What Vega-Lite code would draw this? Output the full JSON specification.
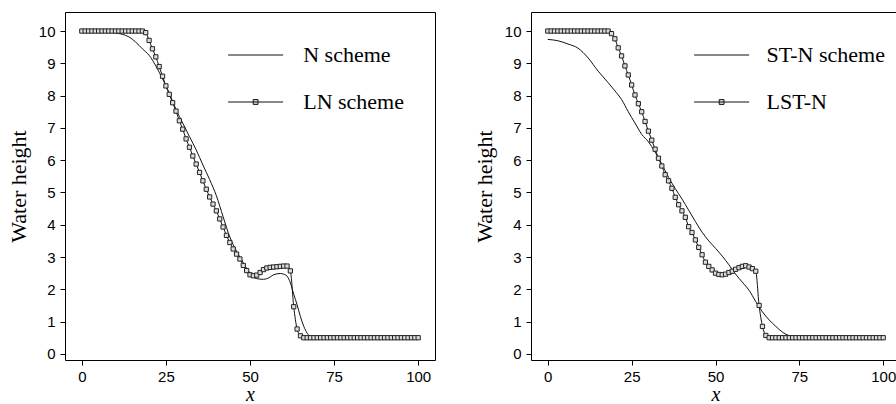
{
  "$schema": "https://vega.github.io/schema/vega-lite/v6.json",
  "background": "white",
  "padding": {"left": 6, "top": 11, "right": 0, "bottom": 0},
  "spacing": 36,
  "config": {
    "view": {"stroke": "black", "strokeWidth": 1},
    "axis": {"grid": false, "domain": false, "tickColor": "black", "tickSize": 5, "labelFont": "Liberation Sans", "labelFontSize": 15, "labelColor": "black", "titleFont": "Liberation Serif", "titleFontSize": 22, "titleFontWeight": "normal", "titleColor": "black"},
    "axisY": {"labelPadding": 5, "titlePadding": 8},
    "axisX": {"labelPadding": 4, "titlePadding": 0, "titleFontSize": 20}
  },
  "datasets": {
    "left": [
      {"x":0,"h":10,"s":"N scheme"},{"x":4,"h":10,"s":"N scheme"},{"x":8,"h":9.97,"s":"N scheme"},{"x":10,"h":9.94,"s":"N scheme"},{"x":12,"h":9.9,"s":"N scheme"},{"x":14,"h":9.82,"s":"N scheme"},{"x":16,"h":9.66,"s":"N scheme"},{"x":18,"h":9.45,"s":"N scheme"},{"x":20,"h":9.25,"s":"N scheme"},{"x":22,"h":8.92,"s":"N scheme"},{"x":24,"h":8.52,"s":"N scheme"},{"x":26,"h":8.08,"s":"N scheme"},{"x":28,"h":7.57,"s":"N scheme"},{"x":30,"h":7.15,"s":"N scheme"},{"x":32,"h":6.73,"s":"N scheme"},{"x":34,"h":6.32,"s":"N scheme"},{"x":36,"h":5.85,"s":"N scheme"},{"x":38,"h":5.4,"s":"N scheme"},{"x":40,"h":4.9,"s":"N scheme"},{"x":42,"h":4.25,"s":"N scheme"},{"x":44,"h":3.62,"s":"N scheme"},{"x":46,"h":3.18,"s":"N scheme"},{"x":48,"h":2.82,"s":"N scheme"},{"x":50,"h":2.5,"s":"N scheme"},{"x":51,"h":2.38,"s":"N scheme"},{"x":52,"h":2.33,"s":"N scheme"},{"x":54,"h":2.31,"s":"N scheme"},{"x":56,"h":2.38,"s":"N scheme"},{"x":57,"h":2.45,"s":"N scheme"},{"x":59,"h":2.49,"s":"N scheme"},{"x":60,"h":2.47,"s":"N scheme"},{"x":61,"h":2.41,"s":"N scheme"},{"x":62,"h":2.2,"s":"N scheme"},{"x":63,"h":1.85,"s":"N scheme"},{"x":64,"h":1.52,"s":"N scheme"},{"x":65,"h":1.15,"s":"N scheme"},{"x":66,"h":0.85,"s":"N scheme"},{"x":67,"h":0.64,"s":"N scheme"},{"x":68,"h":0.53,"s":"N scheme"},{"x":69,"h":0.5,"s":"N scheme"},{"x":100,"h":0.5,"s":"N scheme"},
      {"x":0,"h":10,"s":"LN scheme"},{"x":1,"h":10,"s":"LN scheme"},{"x":2,"h":10,"s":"LN scheme"},{"x":3,"h":10,"s":"LN scheme"},{"x":4,"h":10,"s":"LN scheme"},{"x":5,"h":10,"s":"LN scheme"},{"x":6,"h":10,"s":"LN scheme"},{"x":7,"h":10,"s":"LN scheme"},{"x":8,"h":10,"s":"LN scheme"},{"x":9,"h":10,"s":"LN scheme"},{"x":10,"h":10,"s":"LN scheme"},{"x":11,"h":10,"s":"LN scheme"},{"x":12,"h":10,"s":"LN scheme"},{"x":13,"h":10,"s":"LN scheme"},{"x":14,"h":10,"s":"LN scheme"},{"x":15,"h":10,"s":"LN scheme"},{"x":16,"h":10,"s":"LN scheme"},{"x":17,"h":10,"s":"LN scheme"},{"x":18,"h":10,"s":"LN scheme"},{"x":19,"h":9.95,"s":"LN scheme"},{"x":20,"h":9.71,"s":"LN scheme"},{"x":21,"h":9.45,"s":"LN scheme"},{"x":22,"h":9.2,"s":"LN scheme"},{"x":23,"h":8.9,"s":"LN scheme"},{"x":24,"h":8.6,"s":"LN scheme"},{"x":25,"h":8.3,"s":"LN scheme"},{"x":26,"h":8.04,"s":"LN scheme"},{"x":27,"h":7.78,"s":"LN scheme"},{"x":28,"h":7.52,"s":"LN scheme"},{"x":29,"h":7.22,"s":"LN scheme"},{"x":30,"h":6.96,"s":"LN scheme"},{"x":31,"h":6.66,"s":"LN scheme"},{"x":32,"h":6.4,"s":"LN scheme"},{"x":33,"h":6.13,"s":"LN scheme"},{"x":34,"h":5.88,"s":"LN scheme"},{"x":35,"h":5.62,"s":"LN scheme"},{"x":36,"h":5.36,"s":"LN scheme"},{"x":37,"h":5.1,"s":"LN scheme"},{"x":38,"h":4.86,"s":"LN scheme"},{"x":39,"h":4.64,"s":"LN scheme"},{"x":40,"h":4.43,"s":"LN scheme"},{"x":41,"h":4.18,"s":"LN scheme"},{"x":42,"h":3.93,"s":"LN scheme"},{"x":43,"h":3.67,"s":"LN scheme"},{"x":44,"h":3.45,"s":"LN scheme"},{"x":45,"h":3.25,"s":"LN scheme"},{"x":46,"h":3.09,"s":"LN scheme"},{"x":47,"h":2.94,"s":"LN scheme"},{"x":48,"h":2.74,"s":"LN scheme"},{"x":49,"h":2.58,"s":"LN scheme"},{"x":50,"h":2.45,"s":"LN scheme"},{"x":51,"h":2.42,"s":"LN scheme"},{"x":52,"h":2.44,"s":"LN scheme"},{"x":53,"h":2.52,"s":"LN scheme"},{"x":54,"h":2.61,"s":"LN scheme"},{"x":55,"h":2.66,"s":"LN scheme"},{"x":56,"h":2.68,"s":"LN scheme"},{"x":57,"h":2.69,"s":"LN scheme"},{"x":58,"h":2.7,"s":"LN scheme"},{"x":59,"h":2.71,"s":"LN scheme"},{"x":60,"h":2.72,"s":"LN scheme"},{"x":61,"h":2.72,"s":"LN scheme"},{"x":62,"h":2.57,"s":"LN scheme"},{"x":63,"h":1.46,"s":"LN scheme"},{"x":64,"h":0.77,"s":"LN scheme"},{"x":65,"h":0.56,"s":"LN scheme"},{"x":66,"h":0.5,"s":"LN scheme"},{"x":67,"h":0.5,"s":"LN scheme"},{"x":68,"h":0.5,"s":"LN scheme"},{"x":69,"h":0.5,"s":"LN scheme"},{"x":70,"h":0.5,"s":"LN scheme"},{"x":71,"h":0.5,"s":"LN scheme"},{"x":72,"h":0.5,"s":"LN scheme"},{"x":73,"h":0.5,"s":"LN scheme"},{"x":74,"h":0.5,"s":"LN scheme"},{"x":75,"h":0.5,"s":"LN scheme"},{"x":76,"h":0.5,"s":"LN scheme"},{"x":77,"h":0.5,"s":"LN scheme"},{"x":78,"h":0.5,"s":"LN scheme"},{"x":79,"h":0.5,"s":"LN scheme"},{"x":80,"h":0.5,"s":"LN scheme"},{"x":81,"h":0.5,"s":"LN scheme"},{"x":82,"h":0.5,"s":"LN scheme"},{"x":83,"h":0.5,"s":"LN scheme"},{"x":84,"h":0.5,"s":"LN scheme"},{"x":85,"h":0.5,"s":"LN scheme"},{"x":86,"h":0.5,"s":"LN scheme"},{"x":87,"h":0.5,"s":"LN scheme"},{"x":88,"h":0.5,"s":"LN scheme"},{"x":89,"h":0.5,"s":"LN scheme"},{"x":90,"h":0.5,"s":"LN scheme"},{"x":91,"h":0.5,"s":"LN scheme"},{"x":92,"h":0.5,"s":"LN scheme"},{"x":93,"h":0.5,"s":"LN scheme"},{"x":94,"h":0.5,"s":"LN scheme"},{"x":95,"h":0.5,"s":"LN scheme"},{"x":96,"h":0.5,"s":"LN scheme"},{"x":97,"h":0.5,"s":"LN scheme"},{"x":98,"h":0.5,"s":"LN scheme"},{"x":99,"h":0.5,"s":"LN scheme"},{"x":100,"h":0.5,"s":"LN scheme"}
    ],
    "right": [
      {"x":0,"h":9.74,"s":"ST-N scheme"},{"x":3,"h":9.7,"s":"ST-N scheme"},{"x":6,"h":9.6,"s":"ST-N scheme"},{"x":9,"h":9.47,"s":"ST-N scheme"},{"x":12,"h":9.17,"s":"ST-N scheme"},{"x":15,"h":8.76,"s":"ST-N scheme"},{"x":18,"h":8.4,"s":"ST-N scheme"},{"x":20,"h":8.15,"s":"ST-N scheme"},{"x":22,"h":7.88,"s":"ST-N scheme"},{"x":24,"h":7.5,"s":"ST-N scheme"},{"x":26,"h":7.15,"s":"ST-N scheme"},{"x":28,"h":6.8,"s":"ST-N scheme"},{"x":30,"h":6.57,"s":"ST-N scheme"},{"x":32,"h":6.25,"s":"ST-N scheme"},{"x":34,"h":5.88,"s":"ST-N scheme"},{"x":36,"h":5.47,"s":"ST-N scheme"},{"x":38,"h":5.12,"s":"ST-N scheme"},{"x":40,"h":4.8,"s":"ST-N scheme"},{"x":42,"h":4.45,"s":"ST-N scheme"},{"x":44,"h":4.1,"s":"ST-N scheme"},{"x":46,"h":3.77,"s":"ST-N scheme"},{"x":48,"h":3.5,"s":"ST-N scheme"},{"x":50,"h":3.27,"s":"ST-N scheme"},{"x":52,"h":3.03,"s":"ST-N scheme"},{"x":54,"h":2.76,"s":"ST-N scheme"},{"x":56,"h":2.47,"s":"ST-N scheme"},{"x":58,"h":2.22,"s":"ST-N scheme"},{"x":60,"h":1.97,"s":"ST-N scheme"},{"x":62,"h":1.62,"s":"ST-N scheme"},{"x":63,"h":1.45,"s":"ST-N scheme"},{"x":64,"h":1.3,"s":"ST-N scheme"},{"x":66,"h":1.05,"s":"ST-N scheme"},{"x":68,"h":0.85,"s":"ST-N scheme"},{"x":70,"h":0.67,"s":"ST-N scheme"},{"x":72,"h":0.56,"s":"ST-N scheme"},{"x":74,"h":0.51,"s":"ST-N scheme"},{"x":76,"h":0.5,"s":"ST-N scheme"},{"x":100,"h":0.5,"s":"ST-N scheme"},
      {"x":0,"h":10,"s":"LST-N"},{"x":1,"h":10,"s":"LST-N"},{"x":2,"h":10,"s":"LST-N"},{"x":3,"h":10,"s":"LST-N"},{"x":4,"h":10,"s":"LST-N"},{"x":5,"h":10,"s":"LST-N"},{"x":6,"h":10,"s":"LST-N"},{"x":7,"h":10,"s":"LST-N"},{"x":8,"h":10,"s":"LST-N"},{"x":9,"h":10,"s":"LST-N"},{"x":10,"h":10,"s":"LST-N"},{"x":11,"h":10,"s":"LST-N"},{"x":12,"h":10,"s":"LST-N"},{"x":13,"h":10,"s":"LST-N"},{"x":14,"h":10,"s":"LST-N"},{"x":15,"h":10,"s":"LST-N"},{"x":16,"h":10,"s":"LST-N"},{"x":17,"h":10,"s":"LST-N"},{"x":18,"h":10,"s":"LST-N"},{"x":19,"h":9.92,"s":"LST-N"},{"x":20,"h":9.76,"s":"LST-N"},{"x":21,"h":9.48,"s":"LST-N"},{"x":22,"h":9.23,"s":"LST-N"},{"x":23,"h":8.92,"s":"LST-N"},{"x":24,"h":8.64,"s":"LST-N"},{"x":25,"h":8.33,"s":"LST-N"},{"x":26,"h":8.02,"s":"LST-N"},{"x":27,"h":7.75,"s":"LST-N"},{"x":28,"h":7.5,"s":"LST-N"},{"x":29,"h":7.2,"s":"LST-N"},{"x":30,"h":6.9,"s":"LST-N"},{"x":31,"h":6.62,"s":"LST-N"},{"x":32,"h":6.34,"s":"LST-N"},{"x":33,"h":6.06,"s":"LST-N"},{"x":34,"h":5.82,"s":"LST-N"},{"x":35,"h":5.55,"s":"LST-N"},{"x":36,"h":5.36,"s":"LST-N"},{"x":37,"h":5.13,"s":"LST-N"},{"x":38,"h":4.85,"s":"LST-N"},{"x":39,"h":4.62,"s":"LST-N"},{"x":40,"h":4.43,"s":"LST-N"},{"x":41,"h":4.23,"s":"LST-N"},{"x":42,"h":3.94,"s":"LST-N"},{"x":43,"h":3.76,"s":"LST-N"},{"x":44,"h":3.53,"s":"LST-N"},{"x":45,"h":3.3,"s":"LST-N"},{"x":46,"h":3.07,"s":"LST-N"},{"x":47,"h":2.84,"s":"LST-N"},{"x":48,"h":2.71,"s":"LST-N"},{"x":49,"h":2.6,"s":"LST-N"},{"x":50,"h":2.5,"s":"LST-N"},{"x":51,"h":2.46,"s":"LST-N"},{"x":52,"h":2.45,"s":"LST-N"},{"x":53,"h":2.47,"s":"LST-N"},{"x":54,"h":2.52,"s":"LST-N"},{"x":55,"h":2.56,"s":"LST-N"},{"x":56,"h":2.62,"s":"LST-N"},{"x":57,"h":2.67,"s":"LST-N"},{"x":58,"h":2.71,"s":"LST-N"},{"x":59,"h":2.73,"s":"LST-N"},{"x":60,"h":2.69,"s":"LST-N"},{"x":61,"h":2.64,"s":"LST-N"},{"x":62,"h":2.56,"s":"LST-N"},{"x":63,"h":1.5,"s":"LST-N"},{"x":64,"h":0.85,"s":"LST-N"},{"x":65,"h":0.57,"s":"LST-N"},{"x":66,"h":0.5,"s":"LST-N"},{"x":67,"h":0.5,"s":"LST-N"},{"x":68,"h":0.5,"s":"LST-N"},{"x":69,"h":0.5,"s":"LST-N"},{"x":70,"h":0.5,"s":"LST-N"},{"x":71,"h":0.5,"s":"LST-N"},{"x":72,"h":0.5,"s":"LST-N"},{"x":73,"h":0.5,"s":"LST-N"},{"x":74,"h":0.5,"s":"LST-N"},{"x":75,"h":0.5,"s":"LST-N"},{"x":76,"h":0.5,"s":"LST-N"},{"x":77,"h":0.5,"s":"LST-N"},{"x":78,"h":0.5,"s":"LST-N"},{"x":79,"h":0.5,"s":"LST-N"},{"x":80,"h":0.5,"s":"LST-N"},{"x":81,"h":0.5,"s":"LST-N"},{"x":82,"h":0.5,"s":"LST-N"},{"x":83,"h":0.5,"s":"LST-N"},{"x":84,"h":0.5,"s":"LST-N"},{"x":85,"h":0.5,"s":"LST-N"},{"x":86,"h":0.5,"s":"LST-N"},{"x":87,"h":0.5,"s":"LST-N"},{"x":88,"h":0.5,"s":"LST-N"},{"x":89,"h":0.5,"s":"LST-N"},{"x":90,"h":0.5,"s":"LST-N"},{"x":91,"h":0.5,"s":"LST-N"},{"x":92,"h":0.5,"s":"LST-N"},{"x":93,"h":0.5,"s":"LST-N"},{"x":94,"h":0.5,"s":"LST-N"},{"x":95,"h":0.5,"s":"LST-N"},{"x":96,"h":0.5,"s":"LST-N"},{"x":97,"h":0.5,"s":"LST-N"},{"x":98,"h":0.5,"s":"LST-N"},{"x":99,"h":0.5,"s":"LST-N"},{"x":100,"h":0.5,"s":"LST-N"}
    ]
  },
  "hconcat": [
    {
      "width": 370, "height": 348,
      "data": {"name": "left"},
      "encoding": {
        "x": {"field": "x", "type": "quantitative", "scale": {"domain": [-5, 105], "nice": false, "zero": false}, "axis": {"values": [0, 25, 50, 75, 100], "title": "x", "titleFontStyle": "italic"}},
        "y": {"field": "h", "type": "quantitative", "scale": {"domain": [-0.19, 10.59], "nice": false, "zero": false}, "axis": {"values": [0,1,2,3,4,5,6,7,8,9,10], "title": "Water height"}}
      },
      "layer": [
        {
          "mark": {"type": "line", "strokeWidth": 1, "interpolate": "monotone"},
          "encoding": {
            "color": {"field": "s", "type": "nominal", "scale": {"domain": ["N scheme", "LN scheme"], "range": ["#111", "#111"]},
              "legend": {"title": null, "orient": "none", "legendX": 179.6, "legendY": 32, "padding": 0, "symbolSize": 189, "labelOffset": 36.6, "rowPadding": 25, "labelFont": "Liberation Serif", "labelFontSize": 22, "labelColor": "black", "symbolStrokeWidth": 1,
                "encode": {"symbols": {"update": {"shape": {"signal": "datum.value === 'N scheme' ? 'M-4,0H4' : 'M-4,0H4M-0.35,-0.35H0.35V0.35H-0.35Z'"}, "fill": {"value": "#ddd"}, "stroke": {"value": "#111"}}}}}}
          }
        },
        {
          "transform": [{"filter": "datum.s === 'LN scheme'"}],
          "mark": {"type": "point", "shape": "square", "size": 18, "filled": false, "fill": "#ddd", "fillOpacity": 1, "stroke": "#222", "strokeWidth": 1, "opacity": 1}
        },
        {
          "data": {"values": [{"t": "line"}]},
          "mark": {"type": "text", "font": "Liberation Serif", "fontSize": 22, "align": "left", "baseline": "middle", "color": "black"},
          "encoding": {"x": {"datum": 4.2}, "y": {"datum": 1.35}, "text": {"field": "t"}}
        },
        {
          "data": {"values": [{"t": "y = x"}]},
          "mark": {"type": "text", "font": "Liberation Serif", "fontSize": 22, "fontStyle": "italic", "align": "left", "baseline": "middle", "color": "black"},
          "encoding": {"x": {"datum": 17.3}, "y": {"datum": 1.35}, "text": {"field": "t"}}
        }
      ]
    },
    {
      "width": 369, "height": 348,
      "data": {"name": "right"},
      "encoding": {
        "x": {"field": "x", "type": "quantitative", "scale": {"domain": [-5, 105], "nice": false, "zero": false}, "axis": {"values": [0, 25, 50, 75, 100], "title": "x", "titleFontStyle": "italic"}},
        "y": {"field": "h", "type": "quantitative", "scale": {"domain": [-0.19, 10.59], "nice": false, "zero": false}, "axis": {"values": [0,1,2,3,4,5,6,7,8,9,10], "title": "Water height"}}
      },
      "layer": [
        {
          "mark": {"type": "line", "strokeWidth": 1, "interpolate": "monotone"},
          "encoding": {
            "color": {"field": "s", "type": "nominal", "scale": {"domain": ["ST-N scheme", "LST-N"], "range": ["#111", "#111"]},
              "legend": {"title": null, "orient": "none", "legendX": 179.6, "legendY": 32, "padding": 0, "symbolSize": 189, "labelOffset": 34, "rowPadding": 25, "labelFont": "Liberation Serif", "labelFontSize": 22, "labelColor": "black", "symbolStrokeWidth": 1,
                "encode": {"symbols": {"update": {"shape": {"signal": "datum.value === 'ST-N scheme' ? 'M-4,0H4' : 'M-4,0H4M-0.35,-0.35H0.35V0.35H-0.35Z'"}, "fill": {"value": "#ddd"}, "stroke": {"value": "#111"}}}}}}
          }
        },
        {
          "transform": [{"filter": "datum.s === 'LST-N'"}],
          "mark": {"type": "point", "shape": "square", "size": 18, "filled": false, "fill": "#ddd", "fillOpacity": 1, "stroke": "#222", "strokeWidth": 1, "opacity": 1}
        },
        {
          "data": {"values": [{"t": "line"}]},
          "mark": {"type": "text", "font": "Liberation Serif", "fontSize": 22, "align": "left", "baseline": "middle", "color": "black"},
          "encoding": {"x": {"datum": 5}, "y": {"datum": 1.35}, "text": {"field": "t"}}
        },
        {
          "data": {"values": [{"t": "y = x"}]},
          "mark": {"type": "text", "font": "Liberation Serif", "fontSize": 22, "fontStyle": "italic", "align": "left", "baseline": "middle", "color": "black"},
          "encoding": {"x": {"datum": 17}, "y": {"datum": 1.35}, "text": {"field": "t"}}
        }
      ]
    }
  ],
  "resolve": {"scale": {"color": "independent"}, "legend": {"color": "independent"}}
}
